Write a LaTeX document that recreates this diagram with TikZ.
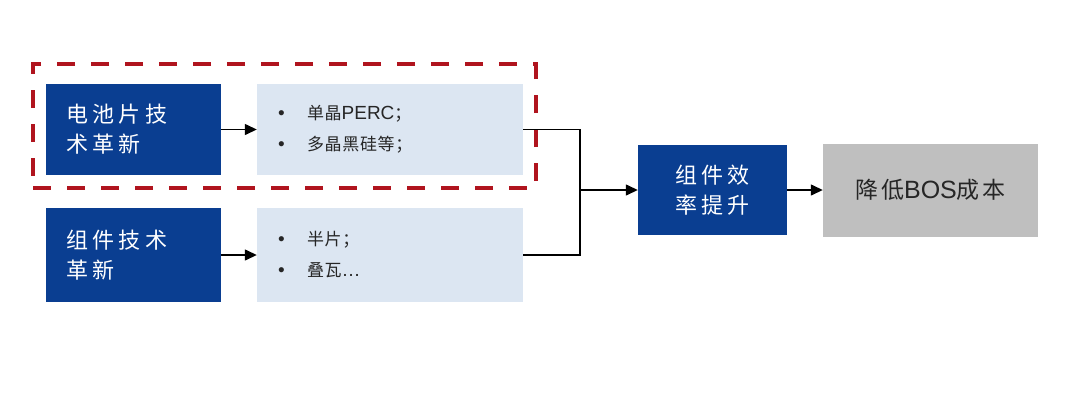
\documentclass[tikz,border=0pt]{standalone}
\usepackage{fontspec}
\setmainfont{Liberation Sans}
\newfontfamily\cjkA[LetterSpace=20]{Noto Sans CJK SC}
\newfontfamily\cjkB[LetterSpace=4]{Noto Sans CJK SC}
\newfontfamily\cjkC[LetterSpace=12]{Noto Sans CJK SC}
\usetikzlibrary{arrows.meta}
\definecolor{navy}{HTML}{0A3E91}
\definecolor{pale}{HTML}{DCE6F2}
\definecolor{midgray}{HTML}{BFBFBF}
\definecolor{dred}{HTML}{B0141E}
\tikzset{
  bluebox/.style={rectangle, fill=navy, text=white, minimum width=175pt, minimum height=91pt,
    inner xsep=20pt, text width=135pt, align=left, font=\cjkA\fontsize{22}{30}\selectfont},
  palebox/.style={rectangle, fill=pale, text=black!85, minimum width=266pt, minimum height=91pt,
    inner xsep=20pt, text width=226pt, align=left, font=\fontsize{19}{31}\selectfont},
  conn/.style={draw=black, line width=1.4pt},
  arr/.style={conn, -{Triangle[length=12pt,width=11pt]}},
}
\newcommand{\bul}{\makebox[30pt][l]{\hspace{1pt}•}}
\begin{document}
\begin{tikzpicture}[x=1pt,y=-1pt]
\useasboundingbox[fill=white] (0,0) rectangle (1090,400);
% group frame
\node[draw=dred, line width=3.8pt, dash pattern=on 18pt off 16pt, minimum width=503pt, minimum height=124pt, inner sep=0pt] (grp) at (284.5,126) {};
% boxes
\node[bluebox] (b1) at (133.5,129.5) {电池片技\\术革新};
\node[palebox] (l1) at (390,129.5) {\bul{\cjkB\fontsize{17}{31}\selectfont 单晶}PERC{\cjkB\fontsize{17}{31}\selectfont ；}\\\bul{\cjkB\fontsize{17}{31}\selectfont 多晶黑硅等；}};
\node[bluebox, minimum height=94pt] (b2) at (133.5,255) {组件技术\\革新};
\node[palebox, minimum height=94pt] (l2) at (390,255) {\bul{\cjkB\fontsize{17}{31}\selectfont 半片；}\\\bul{\cjkB\fontsize{17}{31}\selectfont 叠瓦}…};
\node[bluebox, minimum width=149pt, minimum height=90pt, text width=109pt, align=center] (b3) at (712.5,190) {组件效\\率提升};
\node[rectangle, fill=midgray, minimum width=215pt, minimum height=93pt, text=black!85, font=\fontsize{25}{30}\selectfont] (g) at (930.5,190) {{\cjkC\fontsize{23}{30}\selectfont 降低}BOS{\cjkC\fontsize{23}{30}\selectfont 成本}};
% connectors
\coordinate (j) at (580,190);
\draw[arr] (b1.east) -- (l1.west);
\draw[arr] (b2.east) -- (l2.west);
\draw[conn] (l1.east) -| (j);
\draw[conn] (l2.east) -| (j);
\draw[arr] (j) -- (b3.west);
\draw[arr] (b3.east) -- (g.west);
\end{tikzpicture}
\end{document}
